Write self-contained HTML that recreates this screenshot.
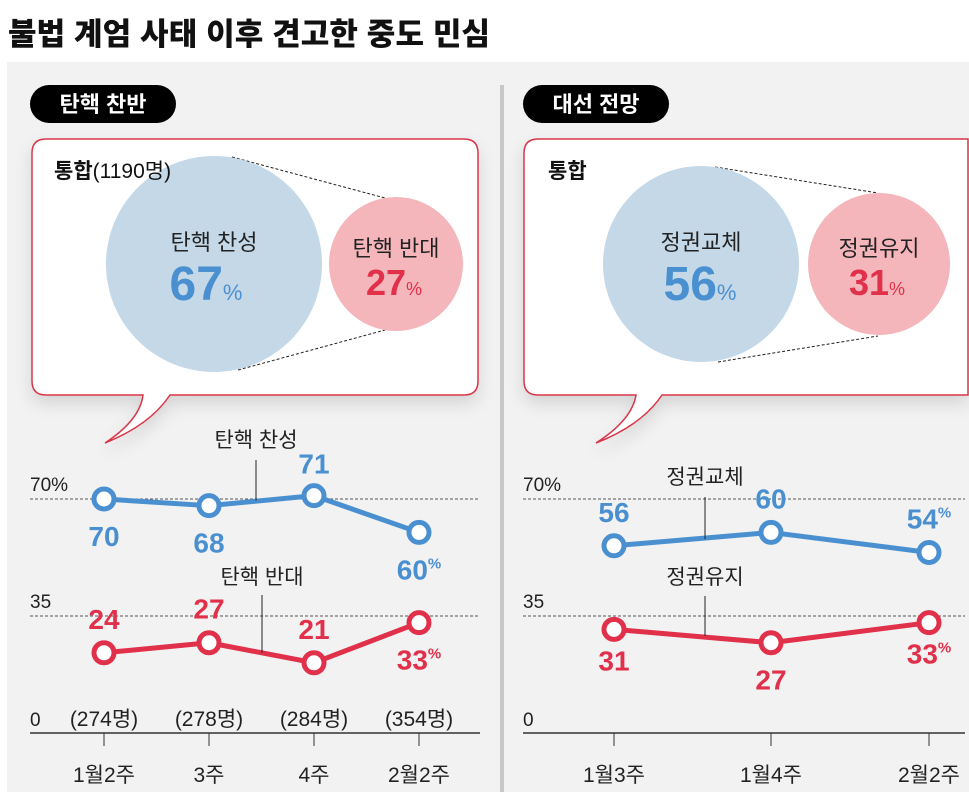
<!DOCTYPE html>
<html><head><meta charset="utf-8"><style>
html,body{margin:0;padding:0;background:#fff}
svg{display:block;font-family:"Liberation Sans","Noto Sans CJK KR",sans-serif}
</style></head><body>
<svg width="969" height="792" viewBox="0 0 969 792">
<defs><filter id="sh" x="-10%" y="-10%" width="120%" height="130%"><feDropShadow dx="0" dy="8" stdDeviation="8" flood-color="#000" flood-opacity="0.12"/></filter></defs>
<text x="8" y="45" font-size="31" font-weight="900" fill="#111" textLength="482">불법 계엄 사태 이후 견고한 중도 민심</text>
<rect x="7" y="62" width="962" height="730" fill="#f2f2f2"/>
<rect x="500" y="85" width="4" height="707" fill="#c8c8c8"/>

<g><rect x="30" y="85" width="146" height="38" rx="19" fill="#000"/><text x="103" y="112" text-anchor="middle" font-size="22" font-weight="bold" fill="#fff">탄핵 찬반</text></g>
<g><rect x="523" y="85" width="146" height="38" rx="19" fill="#000"/><text x="596" y="112" text-anchor="middle" font-size="22" font-weight="bold" fill="#fff">대선 전망</text></g>

<g filter="url(#sh)">
<path d="M46,139 H464 Q478,139 478,153 V381 Q478,395 464,395 H170 Q150,425 105,443 Q140,420 143,395 H46 Q32,395 32,381 V153 Q32,139 46,139 Z" fill="#fff" stroke="#d9364a" stroke-width="1.5"/></g>
<g filter="url(#sh)">
<path d="M538,139 H968 V395 H662 Q642,425 596,443 Q632,420 636,395 H538 Q524,395 524,381 V153 Q524,139 538,139 Z" fill="#fff" stroke="#d9364a" stroke-width="1.5"/></g>

<g>
<line x1="232" y1="157" x2="385" y2="198" stroke="#222" stroke-dasharray="3,2"/>
<line x1="238" y1="370" x2="385" y2="330" stroke="#222" stroke-dasharray="3,2"/>
<circle cx="214" cy="264" r="108" fill="#c4d8e8"/>
<circle cx="396" cy="264" r="67" fill="#f4b5bb"/>
<text x="54" y="178" font-size="21" fill="#111" font-weight="bold">통합<tspan font-weight="normal">(1190명)</tspan></text>
<text x="214" y="250" text-anchor="middle" font-size="22" fill="#222">탄핵 찬성</text>
<text x="206" y="300" text-anchor="middle" font-size="48" font-weight="900" fill="#4a90d0">67<tspan font-size="22" font-weight="normal">%</tspan></text>
<text x="396" y="256" text-anchor="middle" font-size="22" fill="#222">탄핵 반대</text>
<text x="394" y="295" text-anchor="middle" font-size="36" font-weight="900" fill="#e0304a">27<tspan font-size="18" font-weight="normal">%</tspan></text>
</g>
<g>
<line x1="715" y1="167" x2="878" y2="193" stroke="#222" stroke-dasharray="3,2"/>
<line x1="718" y1="362" x2="878" y2="336" stroke="#222" stroke-dasharray="3,2"/>
<circle cx="701" cy="264" r="98" fill="#c4d8e8"/>
<circle cx="879" cy="264" r="71" fill="#f4b5bb"/>
<text x="548" y="178" font-size="21" fill="#111" font-weight="bold">통합</text>
<text x="701" y="250" text-anchor="middle" font-size="22" fill="#222">정권교체</text>
<text x="700" y="300" text-anchor="middle" font-size="48" font-weight="900" fill="#4a90d0">56<tspan font-size="22" font-weight="normal">%</tspan></text>
<text x="879" y="256" text-anchor="middle" font-size="22" fill="#222">정권유지</text>
<text x="877" y="295" text-anchor="middle" font-size="36" font-weight="900" fill="#e0304a">31<tspan font-size="18" font-weight="normal">%</tspan></text>
</g>
<g id="charts"></g>
</svg>
<script>
const leftCats=["1월2주","3주","4주","2월2주"];
const leftN=["(274명)","(278명)","(284명)","(354명)"];
const leftSupport=[70,68,71,60];
const leftOppose=[24,27,21,33];
const rightCats=["1월3주","1월4주","2월2주"];
const rightChange=[56,60,54];
const rightKeep=[31,27,33];
const yTicks=[0,35,70];

const NS="http://www.w3.org/2000/svg";
const root=document.getElementById('charts');
function el(t,a,p){const e=document.createElementNS(NS,t);for(const k in a)e.setAttribute(k,a[k]);(p||root).appendChild(e);return e;}
function y(v){return 733-v*117/35;}
const BLUE="#4a90d0",RED="#e0304a";

function drawChart(x0,x1,xs,cats,s1,s2,off1,off2,leg1,leg2,sub){
  const g=el('g',{});
  
  
  yTicks.forEach(t=>{
    if(t>0){const l=el('line',{x1:x0,x2:x1,y1:y(t),y2:y(t),stroke:'#555','stroke-dasharray':'3,2'},g);
      }
    const tx=el('text',{x:x0,y:(t==0?y(t)-7:y(t)-8),'font-size':19,fill:'#222'},g);
    tx.textContent=t==70?'70%':String(t);
    
  });
  const ax=el('line',{x1:x0,x2:x1,y1:733,y2:733,stroke:'#333','stroke-width':1.5},g);
  
  cats.forEach((c,i)=>{
    el('line',{x1:xs[i],x2:xs[i],y1:733,y2:746,stroke:'#333'},g);
    const t=el('text',{x:xs[i],y:782,'text-anchor':'middle','font-size':21,fill:'#222'},g);
    t.textContent=c;
    if(sub){const s=el('text',{x:xs[i],y:726,'text-anchor':'middle','font-size':21,fill:'#222'},g);
      s.textContent=sub[i];}
  });
  [[s1,BLUE,off1,'support'],[s2,RED,off2,'oppose']].forEach(([d,col,off,nm])=>{
    const p=el('polyline',{points:d.map((v,i)=>xs[i]+','+y(v)).join(' '),fill:'none',stroke:col,'stroke-width':5,'stroke-linejoin':'round'},g);
    
    d.forEach((v,i)=>{
      const c=el('circle',{cx:xs[i],cy:y(v),r:10,fill:'#fff',stroke:col,'stroke-width':5},g);
      
      const t=el('text',{x:xs[i],y:y(v)+off[i],'text-anchor':'middle','font-size':28,'font-weight':'bold',fill:col},g);
      t.textContent=v;
      if(i==d.length-1){const sp=el('tspan',{'font-size':15,dy:-11},t);sp.textContent='%';}
      
    });
  });
  [leg1,leg2].forEach(L=>{
    el('line',{x1:L.x,x2:L.x,y1:L.top,y2:L.lineY,stroke:'#222'},g);
    const t=el('text',{x:L.x,y:L.textY,'text-anchor':'middle','font-size':21,fill:'#222'},g);
    t.textContent=L.text;
  });
}
const lx=[104,209,314,419];
drawChart(30,480,lx,leftCats,leftSupport,leftOppose,
  [47,47,-22,47],[-24,-24,-24,47],
  {x:256,top:460,lineY:(y(leftSupport[1])+y(leftSupport[2]))/2,text:'탄핵 찬성',textY:447},
  {x:262,top:595,lineY:(y(leftOppose[1])+y(leftOppose[2]))/2,text:'탄핵 반대',textY:584},leftN);
const rx=[614,771,929];
drawChart(523,965,rx,rightCats,rightChange,rightKeep,
  [-24,-24,-24],[41,47,41],
  {x:705,top:497,lineY:(y(rightChange[0])+y(rightChange[1]))/2,text:'정권교체',textY:484},
  {x:705,top:596,lineY:(y(rightKeep[0])+y(rightKeep[1]))/2,text:'정권유지',textY:584},null);
</script>
</body></html>
